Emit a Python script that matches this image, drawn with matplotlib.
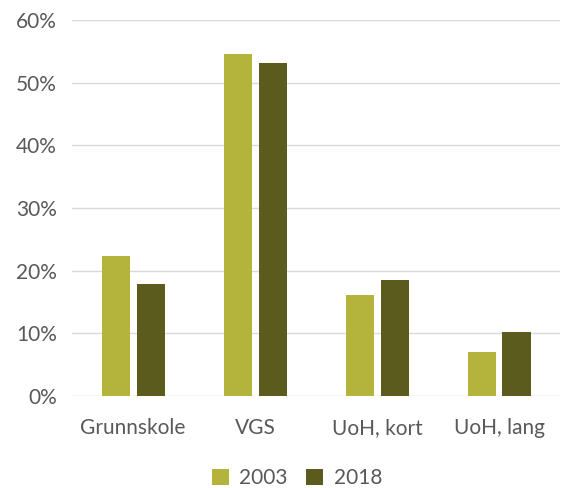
import matplotlib
matplotlib.use("Agg")
import matplotlib.pyplot as plt
import numpy as np

categories = ["Grunnskole", "VGS", "UoH, kort", "UoH, lang"]
series_names = ["2003", "2018"]
values_2003 = [22.3, 54.5, 16.1, 7.0]
values_2018 = [17.9, 53.1, 18.5, 10.2]
colors = ["#B4B43C", "#5B5B1E"]
yticks = [0, 10, 20, 30, 40, 50, 60]

plt.rcParams['font.family'] = ['Lato', 'DejaVu Sans']
fig = plt.figure(figsize=(5.64, 4.88), dpi=100)
ax = fig.add_axes([0.128, 0.189, 0.865, 0.770])

x = np.arange(len(categories))
w = 0.23
off = 0.143
ax.bar(x - off, values_2003, w, color=colors[0], label=series_names[0], zorder=3)
ax.bar(x + off, values_2018, w, color=colors[1], label=series_names[1], zorder=3)

ax.set_xlim(-0.5, len(categories) - 0.5)
ax.set_ylim(0, 60)
ax.set_yticks(yticks)
ax.set_yticklabels([f"{t}%" for t in yticks])
ax.set_xticks(x)
ax.set_xticklabels(categories)
ax.grid(axis='y', color='#D9D9D9', linewidth=1, zorder=0)
for s in ax.spines.values():
    s.set_visible(False)
ax.tick_params(axis='both', length=0, labelsize=15, colors='#595959')
ax.tick_params(axis='x', pad=16)
ax.tick_params(axis='y', pad=11)

fig.legend(loc='center', bbox_to_anchor=(297 / 564, 1 - 478 / 488), ncol=2, frameon=False,
           fontsize=15, labelcolor='#595959', handlelength=0.8, handleheight=0.8,
           columnspacing=0.9, handletextpad=0.5)
fig.savefig("out.png", dpi=100)
